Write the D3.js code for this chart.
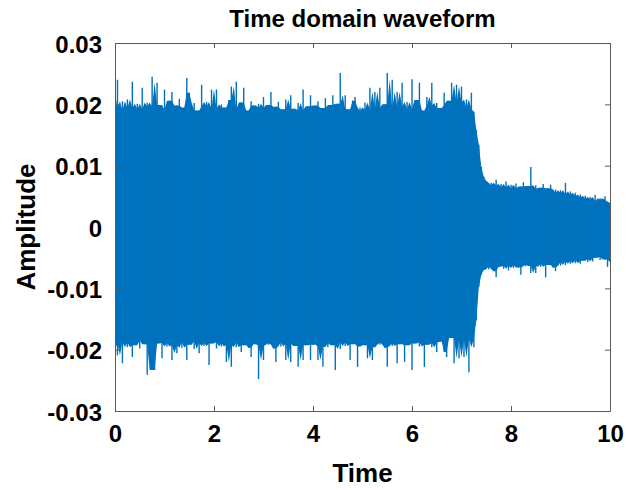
<!DOCTYPE html>
<html>
<head>
<meta charset="utf-8">
<script src="https://cdn.jsdelivr.net/npm/d3@7"></script>
<style>
  html, body { margin: 0; padding: 0; background: #fff; }
  svg { display: block; font-family: "Liberation Sans", Arial, sans-serif; }
  .tick text { font-weight: bold; font-size: 24px; fill: #000; }
  .tick line, .domain { stroke: #5a5a5a; }
</style>
</head>
<body>
<svg id="chart"></svg>
<script>
// peak amplitudes, in thousandths (x 0.001)
// one sample every 0.05 s, from 0 s to 10 s
let sampleStep = 0.05

let upperPeaks = [
  19.5, 24.0, 19.0, 20.5, 18.2, 20.8, 19.4, 23.7, 18.6, 20.1,
  19.2, 22.7, 18.0, 20.3, 19.6, 24.5, 18.8, 23.5, 19.9, 18.4,
  22.4, 19.1, 20.6, 22.0, 18.3, 19.8, 20.9, 18.7, 19.5, 24.3,
  21.9, 18.5, 20.2, 19.0, 18.1, 23.2, 19.7, 20.4, 18.6, 22.4,
  19.3, 22.4, 18.2, 20.0, 19.5, 18.8, 20.7, 22.9, 19.1, 23.7,
  18.4, 20.3, 22.7, 19.0, 18.6, 20.5, 19.8, 18.3, 20.1, 19.4,
  21.2, 18.7, 19.9, 22.0, 18.1, 19.6, 20.4, 18.5, 19.2, 20.8,
  18.9, 21.5, 19.3, 18.0, 20.2, 19.0, 22.4, 18.4, 19.7, 21.5,
  18.6, 19.8, 20.5, 18.2, 19.4, 21.0, 18.8, 19.9, 21.5, 18.3,
  20.1, 25.1, 18.7, 21.5, 19.2, 18.0, 20.6, 21.2, 18.9, 19.5,
  18.4, 20.3, 19.1, 22.7, 18.6, 22.0, 19.4, 22.7, 18.2, 20.0,
  25.1, 19.3, 24.0, 18.8, 22.0, 19.6, 23.5, 18.5, 20.4, 19.2,
  24.1, 18.9, 20.7, 23.5, 19.0, 18.4, 21.2, 19.8, 23.5, 18.7,
  20.2, 19.4, 18.6, 21.9, 19.9, 20.6, 23.5, 19.1, 23.2, 20.3,
  22.9, 19.5, 20.8, 19.2, 21.9, 18.8, 15.8, 13.4, 9.8, 8.2,
  7.5, 6.4, 7.2, 6.8, 7.7, 6.2, 7.0, 6.5, 7.4, 6.1,
  6.9, 6.3, 7.1, 5.9, 6.6, 7.3, 6.0, 6.7, 9.8, 6.2,
  6.8, 5.8, 6.4, 7.0, 5.7, 6.3, 6.9, 5.6, 6.1, 5.5,
  6.0, 5.4, 7.2, 5.2, 5.8, 5.0, 5.6, 4.8, 5.3, 4.6,
  5.1, 4.5, 4.9, 4.2, 5.2, 4.0, 4.7, 4.4, 5.0, 4.1,
  3.8
]

// size of the negative peaks, same units and times
let lowerPeaks = [
  19.0, 20.9, 18.3, 22.2, 18.8, 19.6, 18.1, 21.2, 19.3, 18.5,
  19.8, 18.2, 19.1, 24.1, 18.6, 23.3, 23.3, 19.0, 18.4, 21.4,
  18.9, 19.5, 18.2, 21.7, 19.3, 20.6, 18.5, 19.7, 18.8, 21.7,
  19.2, 18.4, 19.9, 18.6, 20.6, 18.9, 19.4, 18.1, 22.5, 19.0,
  18.7, 19.8, 18.3, 19.5, 18.9, 22.0, 19.2, 22.8, 18.5, 19.6,
  18.8, 20.4, 19.3, 18.4, 19.7, 21.2, 18.6, 19.1, 24.8, 19.4,
  21.7, 18.5, 19.2, 18.9, 19.8, 22.0, 18.3, 19.5, 18.8, 21.7,
  19.0, 22.0, 18.6, 19.4, 22.8, 18.9, 21.7, 19.3, 18.5, 21.7,
  19.2, 18.7, 21.7, 19.5, 22.8, 18.4, 19.6, 18.9, 19.3, 23.3,
  18.6, 19.9, 18.8, 19.4, 18.3, 21.7, 19.1, 18.7, 22.8, 19.5,
  18.9, 19.3, 21.4, 18.5, 21.7, 19.6, 18.8, 19.2, 18.4, 19.7,
  22.8, 18.6, 19.4, 18.9, 22.2, 19.1, 18.5, 22.0, 19.3, 18.7,
  23.3, 19.0, 18.6, 19.5, 18.8, 22.8, 19.2, 18.4, 19.6, 18.9,
  20.4, 18.7, 17.3, 20.4, 21.2, 17.5, 18.1, 22.2, 17.8, 21.4,
  18.4, 21.2, 17.9, 23.7, 18.2, 19.6, 15.2, 9.8, 7.8, 7.0,
  6.4, 6.9, 6.1, 7.2, 8.2, 6.5, 6.0, 6.8, 6.3, 7.1,
  6.2, 6.7, 5.9, 6.6, 7.8, 6.1, 6.4, 5.8, 7.5, 6.3,
  7.5, 6.0, 6.5, 5.9, 8.2, 6.2, 5.8, 6.6, 7.2, 5.7,
  6.3, 5.6, 6.2, 5.5, 6.0, 5.4, 5.9, 5.3, 6.0, 5.5,
  5.2, 5.7, 5.1, 5.6, 5.0, 4.9, 5.4, 4.8, 5.3, 6.5,
  5.0
]

let xTicks = [0, 2, 4, 6, 8, 10]
let yTicks = [-0.03, -0.02, -0.01, 0, 0.01, 0.02, 0.03]
let yTickLabels = ['-0.03', '-0.02', '-0.01', '0', '0.01', '0.02', '0.03']

let width = 634
let height = 490
let plotLeft = 115, plotRight = 610, plotTop = 43, plotBottom = 411
let blue = '#0072BD'

let svg = d3.select('#chart')
    .attr('width', width)
    .attr('height', height)

let xScale = d3.scaleLinear().domain([0, 10]).range([plotLeft, plotRight])
let yScale = d3.scaleLinear().domain([-0.03, 0.03]).range([plotBottom, plotTop])

// each sample: its two peaks, plus a solid core taken from the median of neighbouring peaks
let samples = upperPeaks.map((u, i) => {
    let from = Math.max(0, i - 1)
    return {
        t: i * sampleStep,
        hi: u / 1000,
        lo: -lowerPeaks[i] / 1000,
        coreHi: d3.median(upperPeaks.slice(from, i + 2)) / 1000,
        coreLo: -d3.median(lowerPeaks.slice(from, i + 2)) / 1000
    }
})

svg.append('clipPath').attr('id', 'plot-clip')
    .append('rect')
    .attr('x', plotLeft).attr('y', plotTop)
    .attr('width', plotRight - plotLeft).attr('height', plotBottom - plotTop)

let wave = svg.append('g').attr('clip-path', 'url(#plot-clip)')

let core = d3.area()
    .x(d => xScale(d.t))
    .y0(d => yScale(d.coreLo))
    .y1(d => yScale(d.coreHi))

wave.append('path')
    .datum(samples)
    .attr('d', core)
    .attr('fill', blue)

wave.selectAll('line.spike')
    .data(samples)
    .enter()
    .append('line')
    .attr('class', 'spike')
    .attr('x1', d => xScale(d.t))
    .attr('x2', d => xScale(d.t))
    .attr('y1', d => yScale(d.lo))
    .attr('y2', d => yScale(d.hi))
    .attr('stroke', blue)
    .attr('stroke-width', 1.4)

// axes (box with inward ticks on all four sides, like MATLAB)
let xAxis = d3.axisBottom(xScale).tickValues(xTicks)
    .tickSizeInner(-5).tickSizeOuter(0).tickPadding(14)
    .tickFormat(d3.format('d'))
svg.append('g')
    .attr('transform', 'translate(0,' + plotBottom + ')')
    .call(xAxis)

let yAxis = d3.axisLeft(yScale).tickValues(yTicks)
    .tickSizeInner(-5).tickSizeOuter(0).tickPadding(13)
    .tickFormat((d, i) => yTickLabels[i])
svg.append('g')
    .attr('transform', 'translate(' + plotLeft + ',0)')
    .call(yAxis)
    .selectAll('text').attr('dy', '0.38em')

svg.append('g')
    .attr('transform', 'translate(0,' + plotTop + ')')
    .call(d3.axisTop(xScale).tickValues(xTicks).tickSizeInner(-5).tickSizeOuter(0).tickFormat(''))

svg.append('g')
    .attr('transform', 'translate(' + plotRight + ',0)')
    .call(d3.axisRight(yScale).tickValues(yTicks).tickSizeInner(-5).tickSizeOuter(0).tickFormat(''))

svg.append('text')
    .attr('x', (plotLeft + plotRight) / 2)
    .attr('y', 27)
    .attr('text-anchor', 'middle')
    .attr('font-weight', 'bold')
    .attr('font-size', 24)
    .text('Time domain waveform')

svg.append('text')
    .attr('x', (plotLeft + plotRight) / 2)
    .attr('y', 482)
    .attr('text-anchor', 'middle')
    .attr('font-weight', 'bold')
    .attr('font-size', 26)
    .text('Time')

svg.append('text')
    .attr('transform', 'translate(35,' + (plotTop + plotBottom) / 2 + ') rotate(-90)')
    .attr('text-anchor', 'middle')
    .attr('font-weight', 'bold')
    .attr('font-size', 26)
    .text('Amplitude')
</script>
</body>
</html>
